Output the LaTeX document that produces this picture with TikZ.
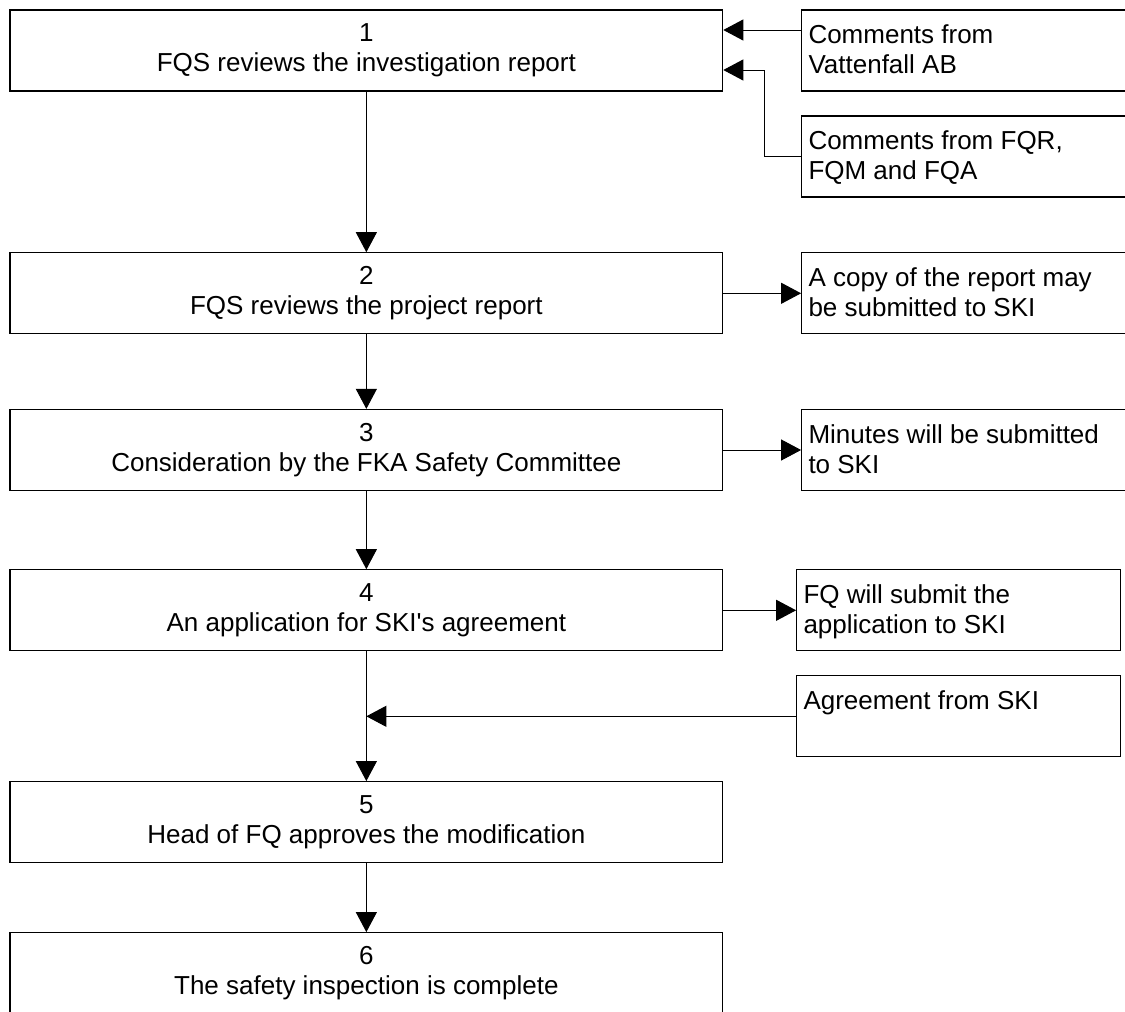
\documentclass[tikz,border=0pt]{standalone}
\usepackage{fontspec}
\setmainfont{Liberation Sans}
\usetikzlibrary{arrows.meta,calc}
\begin{document}
\begin{tikzpicture}[x=0.5pt,y=-0.5pt,
  every node/.style={font=\fontsize{13pt}{15pt}\selectfont},
  mainbox/.style={draw=black,line width=0.6pt,minimum width=356.35pt,minimum height=40.5pt,
    align=center,inner sep=0pt},
  sidebox/.style={draw=black,line width=0.6pt,minimum height=40.5pt,inner sep=0pt},
  sidetext/.style={align=left,anchor=north west,inner sep=0pt},
  flow/.style={line width=0.5pt,-{Triangle[length=10pt,width=10.5pt]}}]
\useasboundingbox (0,0) rectangle (1125,1012);

% main sequence of steps
\node[mainbox] (b1) at (366.35,50.5)  {1\\FQS reviews the investigation report};
\node[mainbox] (b2) at (366.35,293.3) {2\\FQS reviews the project report};
\node[mainbox] (b3) at (366.35,450)   {3\\Consideration by the FKA Safety Committee};
\node[mainbox] (b4) at (366.35,610.3) {4\\An application for SKI\textquotesingle s agreement};
\node[mainbox] (b5) at (366.35,822.2) {5\\Head of FQ approves the modification};
\node[mainbox] (b6) at (366.35,973.2) {6\\The safety inspection is complete};

% side boxes
\node[sidebox,minimum width=164.15pt] (va) at (965.85,50.5)  {};
\node[sidebox,minimum width=164.15pt] (fq) at (965.85,156.5) {};
\node[sidebox,minimum width=164.15pt] (cp) at (965.85,293.3) {};
\node[sidebox,minimum width=164.15pt] (mi) at (965.85,450)   {};
\node[sidebox,minimum width=162pt]    (ap) at (958.7,610.3)  {};
\node[sidebox,minimum width=162pt]    (ag) at (958.7,716.3)  {};

\node[sidetext] (vat) at ([xshift=3.5pt,yshift=-7.5pt]va.north west) {Comments from\\Vattenfall AB};
\node[sidetext] (fqt) at ([xshift=3.5pt,yshift=-7.5pt]fq.north west) {Comments from FQR,\\FQM and FQA};
\node[sidetext] (cpt) at ([xshift=3.5pt,yshift=-7.5pt]cp.north west) {A copy of the report may\\be submitted to SKI};
\node[sidetext] (mit) at ([xshift=3.5pt,yshift=-7.5pt]mi.north west) {Minutes will be submitted\\to SKI};
\node[sidetext] (apt) at ([xshift=3.5pt,yshift=-7.5pt]ap.north west) {FQ will submit the\\application to SKI};
\node[sidetext] (agt) at ([xshift=3.5pt,yshift=-7.5pt]ag.north west) {Agreement from SKI};

% flow between steps
\draw[flow] (b1) -- (b2);
\draw[flow] (b2) -- (b3);
\draw[flow] (b3) -- (b4);
\draw[flow] (b4) -- (b5);
\draw[flow] (b5) -- (b6);

% incoming comments
\draw[flow] ([yshift=10.25pt]va.west) -- ([yshift=10.25pt]b1.east);
\draw[flow] (fq.west) -- ++(-36.7,0) |- ([yshift=-9.75pt]b1.east);

% outgoing submissions
\draw[flow] (b2.east) -- (cp.west);
\draw[flow] (b3.east) -- (mi.west);
\draw[flow] (b4.east) -- (ap.west);

% agreement joins the main line
\coordinate (join) at (ag.west -| b4.south);
\draw[flow] (ag.west) -- (join);
\end{tikzpicture}
\end{document}
